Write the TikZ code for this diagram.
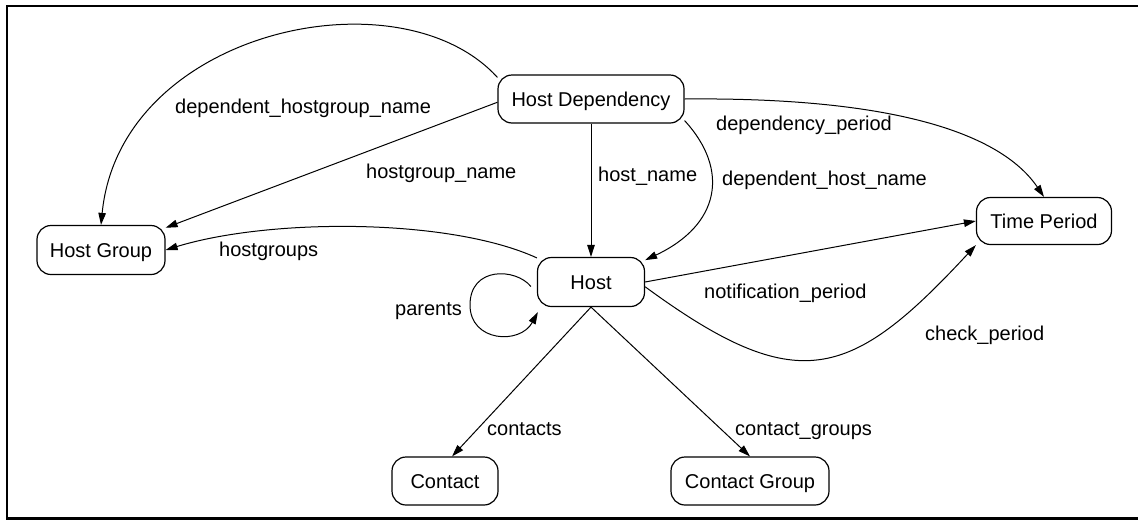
\documentclass[tikz,border=0pt]{standalone}
\usepackage{fontspec}
\setmainfont{Liberation Sans}
\usetikzlibrary{arrows.meta}
\begin{document}
\begin{tikzpicture}[x=1pt,y=-1pt,
  every node/.style={font=\fontsize{20}{24}\selectfont},
  ent/.style={draw,line width=1.2pt,rounded corners=14pt,inner sep=0pt,text height=14.3pt,text depth=0pt},
  lbl/.style={anchor=west,inner sep=0pt,text height=14.3pt,text depth=0pt},
  rel/.style={line width=1pt,-{Triangle[length=12pt,width=7.5pt]}}]
\useasboundingbox (0,0) rectangle (1138,520);
\fill[white] (0,0) rectangle (1138,520);
\draw[line width=2.3pt] (1145,6) -- (7,6) -- (7,518.5) -- (1145,518.5);

\node[ent,minimum width=186pt,minimum height=48pt] (hd) at (591,99) {Host Dependency};
\node[ent,minimum width=128pt,minimum height=49pt] (hg) at (101,250) {Host Group};
\node[ent,minimum width=107pt,minimum height=49pt] (host) at (591,282) {Host};
\node[ent,minimum width=135pt,minimum height=47pt] (tp) at (1044,221) {Time Period};
\node[ent,minimum width=106pt,minimum height=48pt] (ct) at (445,481) {Contact};
\node[ent,minimum width=158pt,minimum height=48pt] (cg) at (750,481) {Contact Group};

\draw[rel] (hd.167) .. controls (400,-30) and (120,30) .. (hg.north);
\draw[rel] (hd.182) -- (hg.19);
\draw[rel] (hd.south) -- (host.north);
\draw[rel] (hd.-13) .. controls (730,170) and (720,225) .. (host.22);
\draw[rel] (hd.east) .. controls (890,97) and (1000,132) .. (tp.north);
\draw[rel] (host.156) .. controls (450,218) and (270,218) .. (hg.east);
\draw[rel] ([xshift=-6pt,yshift=-4.5pt]host.west) .. controls (516,268) and (470,266) .. (470,305)
   .. controls (470,342) and (520,345) .. ([xshift=1pt,yshift=-5pt]host.south west);
\draw[rel] (host.east) -- (tp.west);
\draw[rel] (host.-5) .. controls (797,398) and (850,381) .. (tp.south west);
\draw[rel] (host.south) -- (ct.74);
\draw[rel] (host.south) -- (cg.north);

\node[lbl] (l1) at (175,106) {dependent\_hostgroup\_name};
\node[lbl] (l2) at (366,171) {hostgroup\_name};
\node[lbl] (l3) at (598,174) {host\_name};
\node[lbl] (l4) at (722,178) {dependent\_host\_name};
\node[lbl] (l5) at (716,123) {dependency\_period};
\node[lbl] (l6) at (219,249) {hostgroups};
\node[lbl] (l7) at (395,308) {parents};
\node[lbl] (l8) at (704,291) {notification\_period};
\node[lbl] (l9) at (925,333) {check\_period};
\node[lbl] (l10) at (487,428) {contacts};
\node[lbl] (l11) at (735,428) {contact\_groups};
\end{tikzpicture}
\end{document}
